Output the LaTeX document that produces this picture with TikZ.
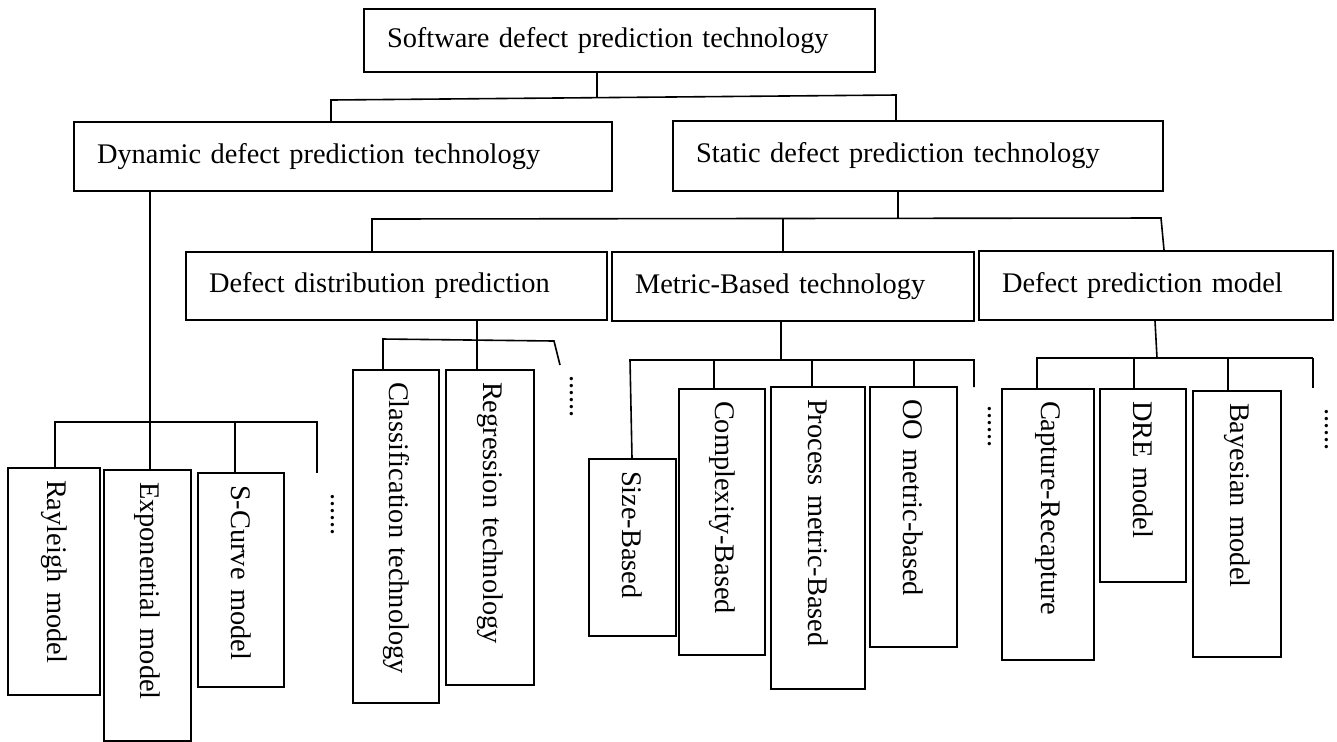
\documentclass[tikz,border=0pt]{standalone}
\usepackage{fontspec}
\setmainfont{Liberation Serif}
\tikzset{
  box/.style={draw, line width=1pt, inner ysep=0pt, align=left,
    font=\fontsize{14.2pt}{17pt}\selectfont},
  dots/.style={rotate=-90, anchor=base west, inner sep=0pt,
    text height=0.2em, text depth=0pt,
    font=\fontsize{14.2pt}{17pt}\selectfont},
  link/.style={line width=0.8pt},
}
\begin{document}
\begin{tikzpicture}[x=0.5pt,y=-0.5pt]
  \useasboundingbox (0,0) rectangle (1337,741);
  % flat boxes: name/left/top/right/bottom/label
  \foreach \n/\xa/\ya/\xb/\yb/\lbl in {
      root/364/9/875/72/Software defect prediction technology,
      dyn/74/122/612/191/Dynamic defect prediction technology,
      stat/673/121/1163/191/Static defect prediction technology,
      dist/186/252/607/320/Defect distribution prediction,
      metric/612/252/974/321/Metric-Based technology,
      model/979/251/1333/320/Defect prediction model}
  {
      \pgfmathsetmacro{\bh}{(\yb-\ya)*0.5}
      \pgfmathsetmacro{\tw}{(\xb-\xa)*0.5-23}
      \node[box, text width=\tw pt, inner xsep=11.5pt, minimum height=\bh pt]
          (\n) at ({(\xa+\xb)/2},{(\ya+\yb)/2}) {\lbl};
  }
  % upright boxes, text turned; .west is their top edge
  \foreach \n/\xa/\ya/\xb/\yb/\lbl in {
      ray/8/468/100/695/Rayleigh model,
      expo/104/470/191/741/Exponential model,
      scurve/198/473/284/687/S-Curve model,
      cls/353/370/439/703/Classification technology,
      regr/446/370/534/685/Regression technology,
      size/589/459/676/636/Size-Based,
      cplx/679/389/765/655/Complexity-Based,
      proc/771/387/865/689/Process metric-Based,
      oo/870/387/957/647/OO metric-based,
      cap/1002/389/1094/660/Capture-Recapture,
      dre/1100/389/1186/582/DRE model,
      bayes/1193/391/1281/657/Bayesian model}
  {
      \pgfmathsetmacro{\bh}{(\xb-\xa)*0.5}
      \pgfmathsetmacro{\tw}{(\yb-\ya)*0.5-12}
      \node[box, rotate=-90, text width=\tw pt, inner xsep=6pt, minimum height=\bh pt]
          (\n) at ({(\xa+\xb)/2},{(\ya+\yb)/2}) {\lbl};
  }
  \node[dots] (dyndots) at (331.5,493) {......};
  \node[dots] (distdots) at (570.5,375) {......};
  \node[dots] (metricdots) at (988.5,405) {......};
  \node[dots] (modeldots) at (1325,408) {......};

  % root
  \coordinate (rL) at (331,100);
  \coordinate (rM) at (597,97.6);
  \coordinate (rR) at (896,95);
  \draw[link] (root.south -| rM) -- (rM);
  \draw[link] (dyn.north -| rL) -- (rL) -- (rR) -- (stat.north -| rR);
  % dynamic
  \coordinate (dL) at (55,422);
  \coordinate (dR) at (317,422);
  \draw[link] (dyn.south -| 150,0) -- (expo.west -| 150,0);
  \draw[link] (ray.west -| dL) -- (dL) -- (dR) -- ++(0,51);
  \draw[link] (235,422) -- (scurve.west -| 235,0);
  % static
  \coordinate (sL) at (372,219);
  \coordinate (sM) at (783,219);
  \coordinate (sR) at (1161,218);
  \draw[link] (stat.south -| 898,0) -- (898,218.5);
  \draw[link] (dist.north -| sL) -- (sL) -- (sR) -- (model.north -| 1164,0);
  \draw[link] (sM) -- (metric.north -| sM);
  % distribution
  \coordinate (tL) at (383,339);
  \coordinate (tR) at (554,341);
  \draw[link] (dist.south -| 477,0) -- (regr.west -| 477,0);
  \draw[link] (cls.west -| tL) -- (tL) -- (tR) -- (560,365);
  % metric
  \coordinate (mL) at (630,360);
  \coordinate (mR) at (974,360);
  \draw[link] (metric.south -| 781,0) -- (781,360);
  \draw[link] (size.west -| 632,0) -- (mL) -- (mR) -- (974,387);
  \foreach \x/\n in {714/cplx, 812/proc, 914/oo}
      \draw[link] (\x,360) -- (\n.west -| \x,0);
  % model
  \coordinate (nL) at (1037,358);
  \coordinate (nR) at (1313,358);
  \draw[link] (model.south -| 1155,0) -- (1157,358);
  \draw[link] (cap.west -| nL) -- (nL) -- (nR);
  \draw[line width=1.2pt] (nR) -- (1313,388);
  \foreach \x/\n in {1134/dre, 1228/bayes}
      \draw[link] (\x,358) -- (\n.west -| \x,0);
\end{tikzpicture}
\end{document}
